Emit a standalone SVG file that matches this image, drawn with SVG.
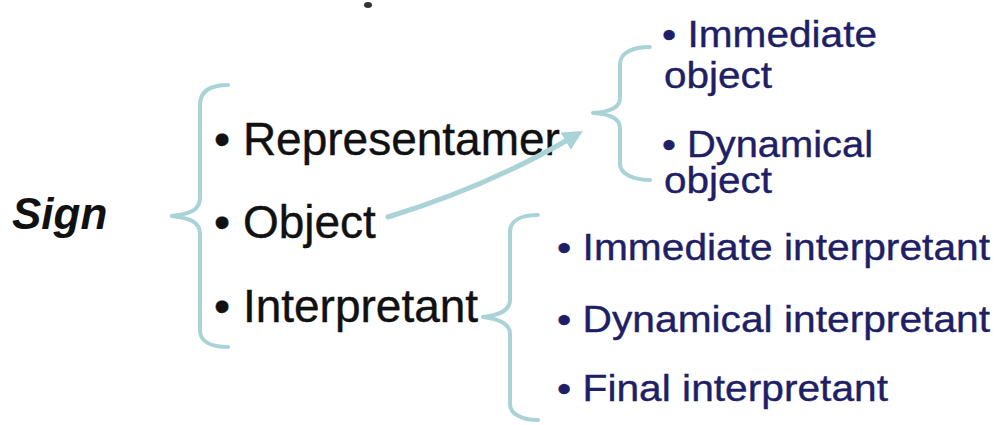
<svg xmlns="http://www.w3.org/2000/svg" width="997" height="425" viewBox="0 0 997 425">
  <style>
    .brace { fill: none; stroke: #a9d3d6; stroke-width: 4; stroke-linecap: round; stroke-linejoin: round; }
    .link { fill: none; stroke: #a9d3d6; stroke-width: 5; stroke-linecap: round; }
    .main { font-family: "Liberation Sans", Arial, sans-serif; font-size: 46px; fill: #111111; stroke: #111111; stroke-width: 0.4; }
    .sub { font-family: "Liberation Sans", Arial, sans-serif; font-size: 37px; fill: #1f1f66; stroke: #1f1f66; stroke-width: 0.4; }
    .title { font-family: "Liberation Sans", Arial, sans-serif; font-size: 44px; font-weight: bold; font-style: italic; fill: #111111; }
  </style>
  <defs>
    <marker id="arrow" viewBox="0 0 10 10" refX="6" refY="5" markerWidth="4" markerHeight="4" orient="auto" markerUnits="strokeWidth">
      <path d="M0,0 L10,5 L0,10 z" fill="#a9d3d6"/>
    </marker>
  </defs>
  <rect width="997" height="425" fill="#ffffff"/>

  <!-- stray mark at the top edge -->
  <ellipse cx="368" cy="5" rx="4" ry="3" fill="#333333"/>

  <g id="sign">
    <text class="title" x="12" y="229">Sign</text>
  </g>

  <g id="sign-parts">
    <path class="brace" d="M228,85 C212,85 200,90 200,105 L200,198 C200,210 190,214 172,216 C190,218 200,222 200,234 L200,330 C200,342 212,347 228,347"/>
    <text class="main" x="214" y="155">• Representamer</text>
    <text class="main" x="214" y="238">• Object</text>
    <text class="main" x="214" y="322">• Interpretant</text>
  </g>

  <g id="object-kinds">
    <path class="brace" d="M650,47 C634,47 620,52 620,64 L620,98 C620,108 610,112 593,113 C610,114 620,118 620,128 L620,164 C620,174 634,180 650,180"/>
    <text class="sub" x="662" y="47" textLength="215" lengthAdjust="spacingAndGlyphs">• Immediate</text>
    <text class="sub" x="664" y="88" textLength="108" lengthAdjust="spacingAndGlyphs">object</text>
    <text class="sub" x="662" y="157" textLength="211" lengthAdjust="spacingAndGlyphs">• Dynamical</text>
    <text class="sub" x="664" y="193" textLength="108" lengthAdjust="spacingAndGlyphs">object</text>
  </g>

  <g id="interpretant-kinds">
    <path class="brace" d="M538,215 C522,215 510,220 510,232 L510,300 C510,310 500,315 483,317 C500,319 510,324 510,334 L510,404 C510,414 522,420 538,420"/>
    <text class="sub" x="557" y="260" textLength="433" lengthAdjust="spacingAndGlyphs">• Immediate interpretant</text>
    <text class="sub" x="557" y="332" textLength="433" lengthAdjust="spacingAndGlyphs">• Dynamical interpretant</text>
    <text class="sub" x="557" y="401" textLength="331" lengthAdjust="spacingAndGlyphs">• Final interpretant</text>
  </g>

  <g id="connectors">
    <path class="link" d="M388,217 Q490,186 576,135" marker-end="url(#arrow)"/>
  </g>
</svg>
